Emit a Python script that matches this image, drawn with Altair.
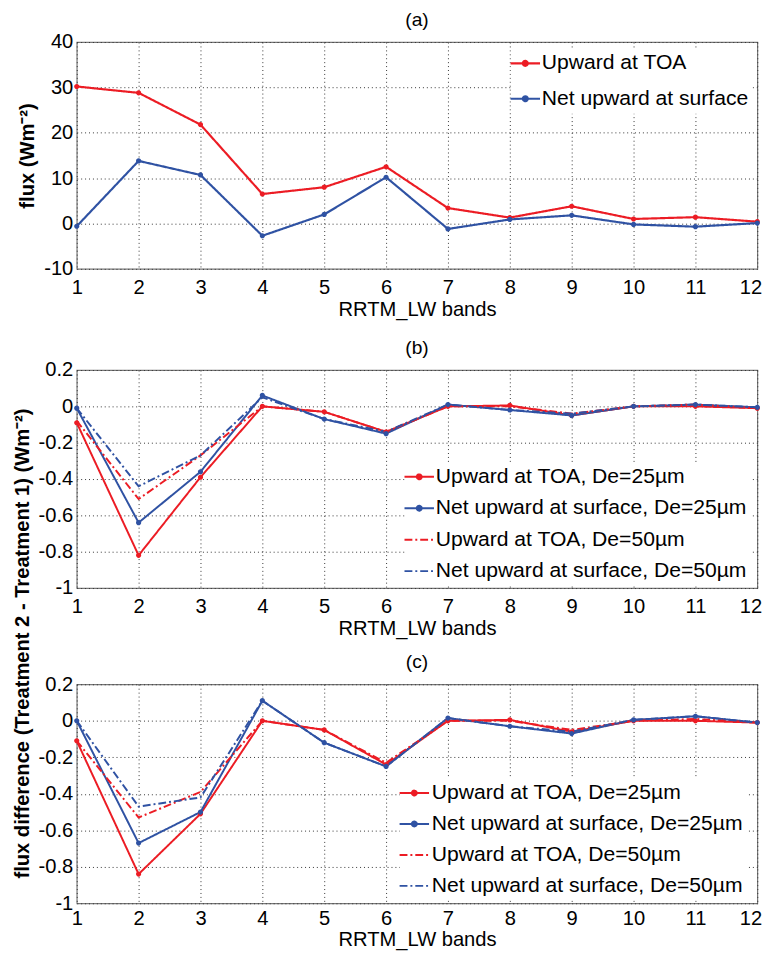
import altair as alt
import pandas as pd

bands = list(range(1, 13))

# Panel (a)
a_names = ["Upward at TOA", "Net upward at surface"]
a_toa = [30.2, 28.8, 21.8, 6.5, 8.0, 12.5, 3.4, 1.3, 3.8, 1.0, 1.4, 0.4]
a_surf = [-0.6, 13.8, 10.7, -2.7, 2.0, 10.2, -1.2, 0.9, 1.8, -0.2, -0.7, 0.1]

# Panels (b) and (c)
bc_names = [
    "Upward at TOA, De=25\u00b5m",
    "Net upward at surface, De=25\u00b5m",
    "Upward at TOA, De=50\u00b5m",
    "Net upward at surface, De=50\u00b5m",
]
b_toa25 = [-0.09, -0.82, -0.39, 0.0, -0.03, -0.14, 0.0, 0.005, -0.05, 0.0, 0.0, -0.01]
b_surf25 = [-0.01, -0.64, -0.36, 0.06, -0.07, -0.15, 0.01, -0.02, -0.05, 0.0, 0.01, -0.005]
b_toa50 = [-0.08, -0.51, -0.27, 0.0, -0.03, -0.14, 0.0, 0.0, -0.04, 0.0, 0.01, -0.01]
b_surf50 = [-0.01, -0.44, -0.27, 0.05, -0.07, -0.14, 0.01, -0.02, -0.04, 0.0, 0.01, -0.005]

c_toa25 = [-0.11, -0.84, -0.51, 0.0, -0.05, -0.24, 0.0, 0.005, -0.06, 0.0, 0.0, -0.01]
c_surf25 = [0.0, -0.67, -0.50, 0.11, -0.12, -0.25, 0.015, -0.03, -0.07, 0.005, 0.025, -0.01]
c_toa50 = [-0.11, -0.53, -0.39, 0.0, -0.05, -0.23, 0.0, 0.0, -0.05, 0.0, 0.01, -0.01]
c_surf50 = [0.0, -0.47, -0.42, 0.11, -0.12, -0.25, 0.015, -0.03, -0.06, 0.005, 0.025, -0.01]

a_yticks = [-10, 0, 10, 20, 30, 40]
bc_yticks = [-1, -0.8, -0.6, -0.4, -0.2, 0, 0.2]

RED = "#ec1c24"
BLUE = "#2f52a3"
FONT = "Liberation Sans, Arial, Helvetica, sans-serif"

# legend/marker glyphs: filled dot with a horizontal stroke through it
DOT = "M-6,0L6,0M-1,0A1,1,0,1,1,1,0A1,1,0,1,1,-1,0Z"
LINE = "M-6,0L6,0"


def to_long(names, series):
    rows = []
    for n, vals in zip(names, series):
        for b, v in zip(bands, vals):
            rows.append({"band": b, "value": v, "series": n})
    return pd.DataFrame(rows)


def panel(df, names, colors, dashes, widths, shapes, solid, ydomain, yticks,
          title, ytitle, lx, ly, rowpad, loff, height, titleY=None,
          xlabpad=9, xtitlepad=2):
    legend = alt.Legend(
        title=None, orient="none", legendX=lx, legendY=ly,
        fillColor="white", padding=4, labelFont=FONT, labelFontSize=21.5,
        labelColor="black", labelLimit=0, symbolSize=25, symbolStrokeWidth=2,
        rowPadding=rowpad, labelOffset=loff,
    )
    yaxis_kwargs = dict(
        values=yticks, grid=True, gridDash=[1, 3], gridColor="#333",
        gridOpacity=1, domain=False, ticks=False, labelFont=FONT,
        labelFontSize=20.5, labelColor="black", labelPadding=4,
        labelFlush=False,
        labelExpr="replace(format(datum.value, '~g'), '\u2212', '-')",
        title=ytitle, titleFont=FONT, titleFontSize=20.5, titleFontWeight="bold",
        titleColor="black", titlePadding=6,
    )
    if titleY is not None:
        yaxis_kwargs.update(titleY=titleY, titleAlign="center",
                            titleAngle=270, titleBaseline="bottom")
    x = alt.X("band:Q", scale=alt.Scale(domain=[1, 12], nice=False),
              axis=alt.Axis(values=bands, grid=True, gridDash=[1, 3],
                            gridColor="#333", gridOpacity=1, domain=False,
                            ticks=False, labelFont=FONT, labelFontSize=20.5,
                            labelFlush=False,
                            labelOffset={"condition": {"test": "datum.value == 12",
                                                       "value": -7},
                                         "value": 0},
                            labelColor="black", labelPadding=xlabpad,
                            title="RRTM_LW bands", titleFont=FONT,
                            titleFontSize=20.5, titleFontWeight="normal",
                            titleColor="black", titlePadding=xtitlepad))
    y = alt.Y("value:Q", scale=alt.Scale(domain=ydomain, nice=False, zero=False),
              axis=alt.Axis(**yaxis_kwargs))
    color = alt.Color("series:N", scale=alt.Scale(domain=names, range=colors),
                      legend=legend)
    dash = alt.StrokeDash("series:N", scale=alt.Scale(domain=names, range=dashes),
                          legend=legend)
    shape = alt.Shape("series:N", scale=alt.Scale(domain=names, range=shapes),
                      legend=legend)
    sw = alt.StrokeWidth("series:N", scale=alt.Scale(domain=names, range=widths),
                         legend=None)
    base = alt.Chart(df)
    lines = base.mark_line().encode(x=x, y=y, color=color, strokeDash=dash,
                                    strokeWidth=sw)
    pts = base.transform_filter(
        alt.FieldOneOfPredicate(field="series", oneOf=solid)
    ).mark_point(filled=True, size=28, opacity=1, strokeOpacity=0).encode(
        x=x, y=y, color=color, shape=shape)
    return alt.layer(lines, pts).properties(
        width=693, height=height,
        title=alt.TitleParams(title, font=FONT, fontSize=19.5,
                              fontWeight="normal", color="black", offset=2),
    )


df_a = to_long(a_names, [a_toa, a_surf])
df_b = to_long(bc_names, [b_toa25, b_surf25, b_toa50, b_surf50])
df_c = to_long(bc_names, [c_toa25, c_surf25, c_toa50, c_surf50])

solid_dash = [1, 0]
dashdot = [8, 3, 2, 3]

pa = panel(df_a, a_names, [RED, BLUE], [solid_dash, solid_dash], [2.2, 2.2],
           [DOT, DOT], a_names, [-10, 40], a_yticks, "(a)",
           "flux  (Wm\u207b\u00b2)", 442, 7, 13, 6, 231)
pb = panel(df_b, bc_names, [RED, BLUE, RED, BLUE],
           [solid_dash, solid_dash, dashdot, dashdot], [2, 2, 1.6, 1.6],
           [DOT, DOT, LINE, LINE], bc_names[:2], [-1, 0.2], bc_yticks, "(b)",
           "flux difference (Treatment 2 - Treatment 1)  (Wm\u207b\u00b2)",
           334, 94, 9, 6, 222, titleY=278)
pc = panel(df_c, bc_names, [RED, BLUE, RED, BLUE],
           [solid_dash, solid_dash, dashdot, dashdot], [2, 2, 1.6, 1.6],
           [DOT, DOT, LINE, LINE], bc_names[:2], [-1, 0.2], bc_yticks, "(c)",
           "", 329, 96, 8.5, 7, 223, xlabpad=6, xtitlepad=0)

indep = dict(color="independent", strokeDash="independent",
             strokeWidth="independent", shape="independent")
lower = alt.vconcat(pb, pc, spacing=98, bounds="flush").resolve_scale(**indep)
chart = alt.vconcat(pa, lower, spacing=103, bounds="flush").resolve_scale(
    **indep
).properties(
    padding={"left": 4, "top": -8, "right": 0, "bottom": -4}
).configure_view(stroke="#777", strokeWidth=1.2)

chart.save("out.html", embed_options={"renderer": "svg", "actions": False})
